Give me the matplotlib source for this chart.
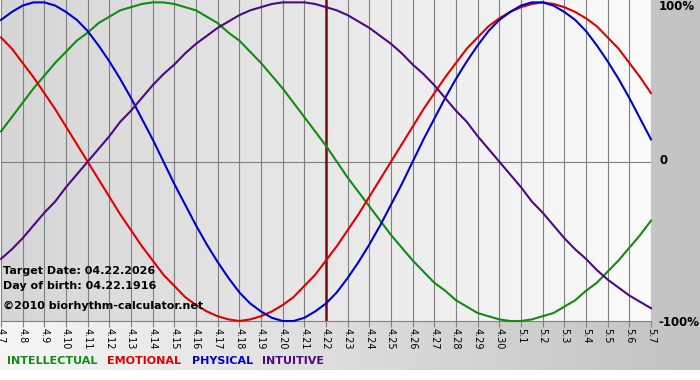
import numpy as np
import matplotlib
matplotlib.use("Agg")
import matplotlib.pyplot as plt
from matplotlib.colors import LinearSegmentedColormap

# dates on the x axis (4.7 .. 5.7)
DAYS = ["4.7", "4.8", "4.9", "4.10", "4.11", "4.12", "4.13", "4.14", "4.15", "4.16",
        "4.17", "4.18", "4.19", "4.20", "4.21", "4.22", "4.23", "4.24", "4.25", "4.26",
        "4.27", "4.28", "4.29", "4.30", "5.1", "5.2", "5.3", "5.4", "5.5", "5.6", "5.7"]
TARGET = "4.22"

# values in percent, every half day (4.7, 4.7 noon, 4.8, ...)
PHYSICAL = [89, 94, 98, 100, 100, 98, 94, 89, 82, 73, 63, 52, 40, 27, 14, 0,
            -14, -27, -40, -52, -63, -73, -82, -89, -94, -98, -100, -100, -98, -94, -89, -82,
            -73, -63, -52, -40, -27, -14, 0, 14, 27, 40, 52, 63, 73, 82,
            89, 94, 98, 100, 100, 98, 94, 89, 82, 73, 63, 52, 40, 27, 14]
EMOTIONAL = [78, 71, 62, 53, 43, 33, 22, 11, 0, -11, -22, -33, -43, -53, -62, -71,
             -78, -85, -90, -94, -97, -99, -100, -99, -97, -94, -90, -85, -78, -71, -62, -53,
             -43, -33, -22, -11, 0, 11, 22, 33, 43, 53, 62, 71, 78, 85,
             90, 94, 97, 99, 100, 99, 97, 94, 90, 85, 78, 71, 62, 53, 43]
INTELLECTUAL = [19, 28, 37, 46, 54, 62, 69, 76, 81, 87, 91, 95, 97, 99, 100, 100,
                99, 97, 95, 91, 87, 81, 76, 69, 62, 54, 46, 37, 28, 19, 10, 0,
                -10, -19, -28, -37, -46, -54, -62, -69, -76, -81, -87, -91, -95, -97,
                -99, -100, -100, -99, -97, -95, -91, -87, -81, -76, -69, -62, -54, -46, -37]
INTUITIVE = [-61, -55, -48, -40, -32, -25, -16, -8, 0, 8, 16, 25, 32, 40, 48, 55,
             61, 68, 74, 79, 84, 88, 92, 95, 97, 99, 100, 100, 100, 99, 97, 95,
             92, 88, 84, 79, 74, 68, 61, 55, 48, 40, 32, 25, 16, 8,
             0, -8, -16, -25, -32, -40, -48, -55, -61, -68, -74, -79, -84, -88, -92]

SERIES = ["INTELLECTUAL", "EMOTIONAL", "PHYSICAL", "INTUITIVE"]
COLORS = ["#138a13", "#e00000", "#0000d0", "#4b0a82"]

W, H = 700, 380
fig = plt.figure(figsize=(W / 100, H / 100), dpi=100)

# background of the whole picture: light on the left, grey on the right
bg = fig.add_axes([0, 0, 1, 1])
bg.axis("off")
bg.set_xlim(0, 1)
bg.set_ylim(0, 1)
bg.imshow(np.linspace(0, 1, 256).reshape(1, -1), aspect="auto",
          extent=[0, 1, 10 / H, 1],
          cmap=LinearSegmentedColormap.from_list("bgc", ["#f6f6f6", "#c2c2c2"]))

ax = fig.add_axes([1 / W, 59 / H, 650 / W, 321 / H])
n = len(DAYS) - 1
ax.set_xlim(0, n)
ax.set_ylim(-100, 101.5)

# plot area shading
ax.imshow(np.linspace(0, 1, 256).reshape(1, -1), aspect="auto",
          extent=[0, n, -100, 101.5], zorder=0,
          cmap=LinearSegmentedColormap.from_list("pc", ["#d6d6d6", "#fbfbfb"]))

for s in ["top", "left", "right"]:
    ax.spines[s].set_visible(False)
ax.spines["bottom"].set_color("#808080")
ax.spines["bottom"].set_linewidth(0.8)

ax.set_xticks(range(len(DAYS)))
ax.set_xticklabels(DAYS, rotation=-90, fontsize=7, va="top", ha="center")
ax.tick_params(axis="x", length=4, width=0.8, color="#808080", pad=1)
ax.set_yticks([])
ax.grid(axis="x", color="#808080", lw=0.8, zorder=1)
ax.set_axisbelow(True)
ax.axhline(0, color="#808080", lw=0.8, zorder=1)

ax.axvline(DAYS.index(TARGET), color="#7a0a0a", lw=1.8, zorder=2)

for vals, c in zip([INTELLECTUAL, EMOTIONAL, PHYSICAL, INTUITIVE], COLORS):
    xs = np.arange(len(vals)) / 2
    ax.plot(xs, vals, color=c, lw=1.5, zorder=3, clip_on=False)

# right side scale
fig.text(659 / W, 1 - 7 / H, "100%", fontsize=8.5, fontweight="bold", va="center")
fig.text(660 / W, 1 - 161 / H, "0", fontsize=8.5, fontweight="bold", va="center")
fig.text(658 / W, 1 - 322 / H, "-100%", fontsize=8.5, fontweight="bold", va="center")

# info text
fig.text(3 / W, 1 - 271 / H, "Target Date: 04.22.2026", fontsize=8, fontweight="bold", va="center")
fig.text(3 / W, 1 - 286 / H, "Day of birth: 04.22.1916", fontsize=8, fontweight="bold", va="center")
fig.text(3 / W, 1 - 306 / H, "\u00a92010 biorhythm-calculator.net", fontsize=8, fontweight="bold", va="center")

# legend
for name, c, px in zip(SERIES, COLORS, [7, 107, 192, 262]):
    fig.text(px / W, 1 - 361 / H, name, color=c, fontsize=8, fontweight="bold", va="center")

fig.savefig("out.png", dpi=100)
